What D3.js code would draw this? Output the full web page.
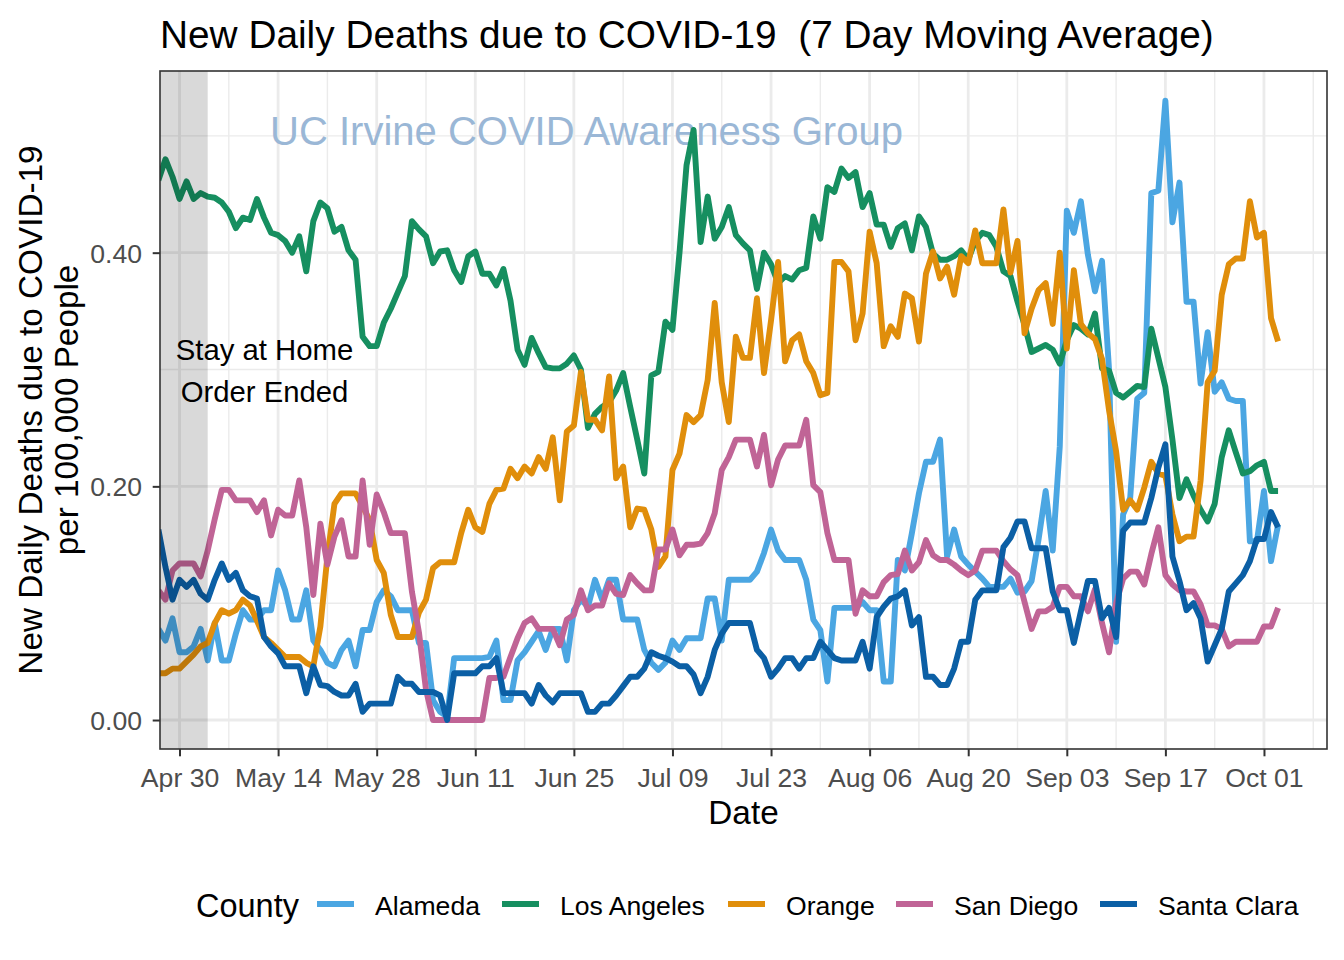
<!DOCTYPE html>
<html><head><meta charset="utf-8">
<script src="https://cdn.jsdelivr.net/npm/d3@7"></script>
<style>body{margin:0;background:#fff} svg text{font-family:"Liberation Sans",Arial,Helvetica,sans-serif}</style>
</head><body><svg id="chart" width="1344" height="960"></svg>
<script>
// ---------- data ----------
const startDate = "2020-04-27";          // first daily value
const shadeEnd = "2020-05-04";           // stay-at-home order shading ends
const counties = ["Alameda", "Los Angeles", "Orange", "San Diego", "Santa Clara"];
const countyColors = ["#4BA6E2", "#168F60", "#E08E0B", "#C06496", "#0B5FA5"];
const xTickDates = ["2020-04-30","2020-05-14","2020-05-28","2020-06-11","2020-06-25","2020-07-09","2020-07-23","2020-08-06","2020-08-20","2020-09-03","2020-09-17","2020-10-01"];
const xTickLabels = ["Apr 30","May 14","May 28","Jun 11","Jun 25","Jul 09","Jul 23","Aug 06","Aug 20","Sep 03","Sep 17","Oct 01"];
const yTicks = [0, 0.2, 0.4];
const yTickLabels = ["0.00", "0.20", "0.40"];

const alameda = [0.078,0.068,0.087,0.058,0.058,0.063,0.078,0.051,0.083,0.051,
 0.051,0.074,0.094,0.086,0.086,0.094,0.094,0.128,0.111,0.086,
 0.086,0.111,0.068,0.06,0.049,0.046,0.06,0.068,0.046,0.077,
 0.077,0.101,0.111,0.106,0.094,0.094,0.094,0.066,0.066,0.017,
 0.007,0.003,0.053,0.053,0.053,0.053,0.053,0.054,0.068,0.017,
 0.017,0.051,0.058,0.067,0.076,0.06,0.078,0.078,0.051,0.094,
 0.103,0.097,0.12,0.103,0.12,0.12,0.086,0.086,0.086,0.06,
 0.049,0.043,0.049,0.068,0.06,0.07,0.07,0.07,0.104,0.104,
 0.068,0.12,0.12,0.12,0.12,0.127,0.143,0.163,0.145,0.137,
 0.137,0.137,0.12,0.086,0.077,0.033,0.096,0.096,0.096,0.096,
 0.101,0.094,0.094,0.033,0.033,0.137,0.128,0.16,0.194,0.221,
 0.221,0.24,0.14,0.163,0.14,0.133,0.127,0.121,0.114,0.114,
 0.114,0.121,0.109,0.11,0.119,0.155,0.196,0.145,0.234,0.436,
 0.417,0.444,0.398,0.367,0.393,0.30,0.067,0.176,0.19,0.275,
 0.28,0.451,0.453,0.530,0.426,0.46,0.358,0.358,0.288,0.332,
 0.281,0.289,0.275,0.273,0.273,0.153,0.153,0.196,0.136,0.167];

const losAngeles = [0.462,0.48,0.465,0.446,0.461,0.446,0.451,0.448,0.447,0.443,
 0.435,0.421,0.43,0.428,0.446,0.43,0.417,0.415,0.41,0.40,
 0.414,0.384,0.427,0.443,0.438,0.418,0.422,0.402,0.394,0.328,
 0.320,0.320,0.34,0.352,0.366,0.38,0.427,0.42,0.414,0.391,
 0.401,0.402,0.385,0.375,0.397,0.401,0.382,0.382,0.372,0.386,
 0.359,0.317,0.304,0.327,0.314,0.302,0.301,0.301,0.305,0.312,
 0.30,0.25,0.262,0.268,0.272,0.282,0.297,0.268,0.24,0.211,
 0.295,0.298,0.341,0.334,0.40,0.475,0.505,0.409,0.448,0.412,
 0.422,0.439,0.415,0.408,0.402,0.369,0.40,0.39,0.374,0.38,
 0.377,0.385,0.387,0.431,0.412,0.456,0.452,0.472,0.464,0.469,
 0.439,0.451,0.424,0.424,0.405,0.421,0.425,0.402,0.431,0.422,
 0.399,0.394,0.394,0.397,0.402,0.394,0.41,0.417,0.415,0.405,
 0.384,0.38,0.358,0.338,0.315,0.318,0.321,0.317,0.305,0.325,
 0.338,0.335,0.33,0.348,0.301,0.299,0.28,0.276,0.281,0.286,
 0.285,0.335,0.31,0.285,0.24,0.19,0.206,0.192,0.18,0.17,
 0.185,0.225,0.248,0.229,0.211,0.213,0.218,0.221,0.196,0.196];

const orange = [0.04,0.04,0.044,0.044,0.05,0.056,0.063,0.066,0.083,0.094,
 0.091,0.094,0.103,0.098,0.085,0.071,0.066,0.06,0.054,0.054,
 0.054,0.049,0.046,0.08,0.14,0.185,0.194,0.194,0.194,0.183,
 0.171,0.137,0.126,0.09,0.071,0.071,0.071,0.092,0.103,0.13,
 0.135,0.135,0.135,0.16,0.18,0.165,0.161,0.185,0.197,0.198,
 0.215,0.207,0.217,0.211,0.225,0.215,0.242,0.188,0.247,0.252,
 0.298,0.257,0.257,0.248,0.294,0.207,0.217,0.165,0.181,0.18,
 0.163,0.131,0.14,0.214,0.228,0.261,0.255,0.261,0.291,0.357,
 0.289,0.255,0.328,0.31,0.31,0.361,0.297,0.342,0.392,0.307,
 0.325,0.33,0.307,0.297,0.278,0.28,0.392,0.392,0.384,0.325,
 0.348,0.418,0.391,0.32,0.337,0.328,0.365,0.361,0.324,0.382,
 0.401,0.378,0.388,0.364,0.397,0.391,0.419,0.391,0.391,0.391,
 0.437,0.383,0.41,0.331,0.352,0.368,0.374,0.339,0.40,0.318,
 0.385,0.339,0.331,0.326,0.309,0.265,0.23,0.18,0.188,0.18,
 0.199,0.221,0.211,0.209,0.176,0.153,0.157,0.157,0.205,0.289,
 0.299,0.364,0.39,0.395,0.395,0.444,0.413,0.417,0.344,0.324];

const sanDiego = [0.111,0.103,0.128,0.134,0.134,0.134,0.123,0.145,0.172,0.197,
 0.197,0.188,0.188,0.188,0.178,0.188,0.158,0.18,0.175,0.175,
 0.205,0.165,0.107,0.168,0.133,0.157,0.171,0.14,0.14,0.205,
 0.15,0.193,0.178,0.16,0.16,0.16,0.11,0.075,0.026,0,
 0,0,0,0,0,0,0,0.036,0.036,0.037,
 0.054,0.07,0.083,0.087,0.078,0.078,0.078,0.064,0.086,0.09,
 0.111,0.094,0.098,0.098,0.117,0.108,0.107,0.124,0.117,0.111,
 0.111,0.146,0.146,0.163,0.141,0.15,0.15,0.151,0.16,0.177,
 0.214,0.225,0.24,0.24,0.24,0.217,0.244,0.201,0.223,0.235,
 0.235,0.235,0.257,0.201,0.195,0.16,0.137,0.137,0.137,0.091,
 0.111,0.106,0.106,0.118,0.124,0.125,0.145,0.128,0.135,0.154,
 0.141,0.137,0.137,0.133,0.128,0.124,0.128,0.145,0.145,0.145,
 0.136,0.129,0.124,0.101,0.078,0.093,0.093,0.097,0.114,0.114,
 0.106,0.106,0.093,0.112,0.083,0.058,0.10,0.121,0.127,0.127,
 0.116,0.142,0.165,0.124,0.116,0.111,0.11,0.11,0.099,0.081,
 0.081,0.078,0.063,0.067,0.067,0.067,0.067,0.08,0.08,0.096];

const santaClara = [0.163,0.131,0.103,0.12,0.114,0.12,0.108,0.103,0.12,0.134,
 0.12,0.126,0.111,0.106,0.104,0.071,0.063,0.057,0.046,0.046,
 0.046,0.023,0.046,0.03,0.029,0.024,0.021,0.021,0.031,0.007,
 0.014,0.014,0.014,0.014,0.037,0.031,0.031,0.024,0.024,0.024,
 0.021,0.0,0.04,0.04,0.04,0.04,0.046,0.046,0.053,0.023,
 0.023,0.023,0.023,0.014,0.03,0.021,0.015,0.023,0.023,0.023,
 0.023,0.007,0.007,0.014,0.014,0.021,0.029,0.037,0.037,0.044,
 0.058,0.055,0.053,0.05,0.046,0.046,0.039,0.023,0.037,0.06,
 0.074,0.083,0.083,0.083,0.083,0.06,0.053,0.037,0.044,0.053,
 0.053,0.044,0.053,0.053,0.067,0.06,0.053,0.051,0.051,0.051,
 0.067,0.044,0.088,0.097,0.104,0.106,0.111,0.081,0.088,0.037,
 0.037,0.03,0.03,0.044,0.067,0.067,0.103,0.111,0.111,0.111,
 0.148,0.156,0.17,0.17,0.147,0.147,0.147,0.11,0.094,0.094,
 0.066,0.093,0.119,0.119,0.087,0.096,0.071,0.162,0.169,0.169,
 0.169,0.19,0.216,0.236,0.14,0.119,0.094,0.1,0.087,0.05,
 0.064,0.078,0.11,0.117,0.124,0.136,0.155,0.155,0.178,0.165];

const seriesValues = [alameda, losAngeles, orange, sanDiego, santaClara];

// ---------- layout ----------
const W = 1344, H = 960;
const P = {left: 160, right: 1327, top: 71, bottom: 749};
const DAY = 864e5;
const parse = d3.utcParse("%Y-%m-%d");
const t0 = parse(startDate);
const dates = seriesValues[0].map((_, i) => d3.utcDay.offset(t0, i));

const x = d3.scaleUtc()
  .domain([new Date(+t0 + 0.227 * DAY), new Date(+t0 + 165.95 * DAY)])
  .range([P.left, P.right]);
const y = d3.scaleLinear().domain([-0.0248, 0.5555]).range([P.bottom, P.top]);

const svg = d3.select("#chart");
svg.append("rect").attr("width", W).attr("height", H).attr("fill", "#fff");

// grid
const grid = svg.append("g");
const majorX = xTickDates.map(parse);
const minorX = d3.utcDay.range(parse("2020-05-07"), x.domain()[1], 14);
const minorY = [0.1, 0.3, 0.5];
grid.selectAll(".mnx").data(minorX).join("line")
  .attr("x1", d => x(d)).attr("x2", d => x(d)).attr("y1", P.top).attr("y2", P.bottom)
  .attr("stroke", "#EBEBEB").attr("stroke-width", 1.4);
grid.selectAll(".mny").data(minorY).join("line")
  .attr("y1", d => y(d)).attr("y2", d => y(d)).attr("x1", P.left).attr("x2", P.right)
  .attr("stroke", "#EBEBEB").attr("stroke-width", 1.4);
grid.selectAll(".mjx").data(majorX).join("line")
  .attr("x1", d => x(d)).attr("x2", d => x(d)).attr("y1", P.top).attr("y2", P.bottom)
  .attr("stroke", "#EBEBEB").attr("stroke-width", 2.8);
grid.selectAll(".mjy").data(yTicks).join("line")
  .attr("y1", d => y(d)).attr("y2", d => y(d)).attr("x1", P.left).attr("x2", P.right)
  .attr("stroke", "#EBEBEB").attr("stroke-width", 2.8);

// clip
svg.append("clipPath").attr("id", "panel").append("rect")
  .attr("x", P.left).attr("y", P.top).attr("width", P.right - P.left).attr("height", P.bottom - P.top);
const plot = svg.append("g").attr("clip-path", "url(#panel)");

// watermark
plot.append("text").attr("x", 586.5).attr("y", 145).attr("text-anchor", "middle")
  .attr("font-size", 40).attr("fill", "#9AB7D6").text("UC Irvine COVID Awareness Group");

// lines
const line = d3.line().x((d, i) => x(dates[i])).y(d => y(d));
counties.forEach((c, k) => {
  plot.append("path").datum(seriesValues[k]).attr("d", line)
    .attr("fill", "none").attr("stroke", countyColors[k]).attr("stroke-width", 5.9)
    .attr("stroke-linejoin", "round").attr("stroke-linecap", "butt");
});

// shaded stay-at-home region (drawn on top, semi-transparent)
plot.append("rect").attr("x", P.left).attr("y", P.top)
  .attr("width", x(parse(shadeEnd)) - P.left).attr("height", P.bottom - P.top)
  .attr("fill", "#000").attr("fill-opacity", 0.15);

// annotation
const ann = svg.append("text").attr("font-size", 29.3).attr("fill", "#000").attr("text-anchor", "middle");
ann.append("tspan").attr("x", 264.5).attr("y", 360).text("Stay at Home");
ann.append("tspan").attr("x", 264.5).attr("y", 402).text("Order Ended");

// panel border
svg.append("rect").attr("x", P.left).attr("y", P.top).attr("width", P.right - P.left)
  .attr("height", P.bottom - P.top).attr("fill", "none").attr("stroke", "#333").attr("stroke-width", 1.6);

// axes
const xAxis = svg.append("g").attr("transform", `translate(0,${P.bottom})`)
  .call(d3.axisBottom(x).tickValues(majorX).tickSize(7.3).tickFormat((d, i) => xTickLabels[i]));
xAxis.select(".domain").remove();
xAxis.selectAll(".tick line").attr("stroke", "#333").attr("stroke-width", 2);
xAxis.selectAll(".tick text").attr("y", 0).attr("dy", null).attr("transform", "translate(0,37.5)")
  .attr("font-size", 26.6).attr("fill", "#4D4D4D").attr("font-family", null);

const yAxis = svg.append("g").attr("transform", `translate(${P.left},0)`)
  .call(d3.axisLeft(y).tickValues(yTicks).tickSize(7.3).tickFormat((d, i) => yTickLabels[i]));
yAxis.select(".domain").remove();
yAxis.selectAll(".tick line").attr("stroke", "#333").attr("stroke-width", 2);
yAxis.selectAll(".tick text").attr("x", -18).attr("dy", null).attr("y", 9.5)
  .attr("font-size", 26.6).attr("fill", "#4D4D4D").attr("font-family", null);

// titles
svg.append("text").attr("x", 160).attr("y", 48).attr("font-size", 38.8).attr("fill", "#000")
  .style("white-space", "pre")
  .text("New Daily Deaths due to COVID-19  (7 Day Moving Average)");
svg.append("text").attr("x", (P.left + P.right) / 2).attr("y", 824).attr("text-anchor", "middle")
  .attr("font-size", 33.3).attr("fill", "#000").text("Date");
const yt = svg.append("text").attr("transform", "rotate(-90)").attr("text-anchor", "middle")
  .attr("font-size", 33.3).attr("fill", "#000");
yt.append("tspan").attr("x", -(P.top + P.bottom) / 2).attr("y", 42).text("New Daily Deaths due to COVID-19");
yt.append("tspan").attr("x", -(P.top + P.bottom) / 2).attr("y", 78).text("per 100,000 People");

// legend
const leg = svg.append("g");
leg.append("text").attr("x", 196).attr("y", 916.5).attr("font-size", 32.5).attr("fill", "#000").text("County");
const keyX = [317, 502, 728, 896, 1100];
counties.forEach((c, k) => {
  leg.append("line").attr("x1", keyX[k]).attr("x2", keyX[k] + 37).attr("y1", 904).attr("y2", 904)
    .attr("stroke", countyColors[k]).attr("stroke-width", 5.9);
  leg.append("text").attr("x", keyX[k] + 58).attr("y", 914.5).attr("font-size", 26.6).attr("fill", "#000").text(c);
});
</script></body></html>
